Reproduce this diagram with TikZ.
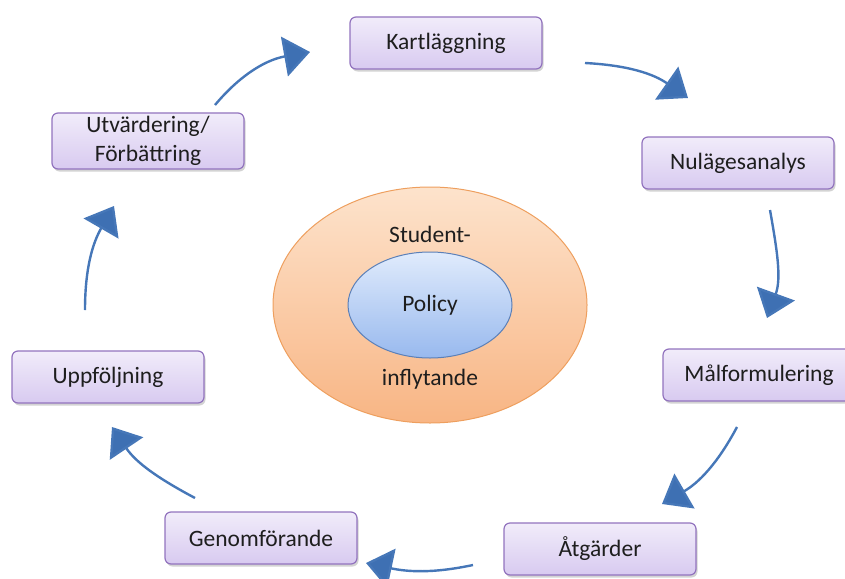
\documentclass[tikz,border=0pt]{standalone}
\usepackage{fontspec}
\setmainfont{Carlito}
\usetikzlibrary{arrows.meta,shadows,shapes.geometric}
\definecolor{boxtop}{HTML}{F1ECFA}
\definecolor{boxbot}{HTML}{D8CAF0}
\definecolor{boxline}{HTML}{9273BE}
\definecolor{arrowc}{HTML}{4677B8}
\definecolor{tipc}{HTML}{3E70B3}
\definecolor{orgtop}{HTML}{FDE3CC}
\definecolor{orgbot}{HTML}{F8B584}
\definecolor{orgline}{HTML}{EE9F5E}
\definecolor{bltop}{HTML}{E0EBFC}
\definecolor{blbot}{HTML}{98B9EE}
\definecolor{blline}{HTML}{5B80B8}
\definecolor{txt}{HTML}{1E1E1E}
\tikzset{
  stepbox/.style={rectangle, rounded corners=6pt, draw=boxline, line width=1.2pt,
    top color=boxtop, bottom color=boxbot, minimum width=192pt, minimum height=52pt,
    font=\fontsize{23.5}{29}\selectfont, text=txt, align=center,
    drop shadow={opacity=0.35, shadow xshift=1.5pt, shadow yshift=-2.5pt}},
  cyc/.style={draw=arrowc, line width=2.4pt,
    -{Triangle[length=26pt,width=40pt,fill=tipc]}},
  lbl/.style={font=\fontsize{23.5}{29}\selectfont, text=txt}
}
\begin{document}
\begin{tikzpicture}[x=1pt,y=-1pt]
\useasboundingbox (0,0) rectangle (845,578);
\clip (0,0) rectangle (845,578);
% central ellipses
\node[ellipse, draw=orgline, line width=1pt, top color=orgtop, bottom color=orgbot,
  minimum width=314pt, minimum height=236pt] (outer) at (430,305) {};
\node[ellipse, draw=blline, line width=1pt, top color=bltop, bottom color=blbot,
  minimum width=164pt, minimum height=106pt] (inner) at (430,305) {};
\node[lbl] (policy) at (inner.center) {Policy};
\node[lbl] (student) at (430,234) {Student-};
\node[lbl] (infly) at (430,379) {inflytande};
% boxes
\node[stepbox] (kart) at (446,43) {Kartläggning};
\node[stepbox] (nul) at (738,163) {Nulägesanalys};
\node[stepbox] (mal) at (759,375) {Målformulering};
\node[stepbox] (atg) at (600,549) {Åtgärder};
\node[stepbox] (gen) at (261,538) {Genomförande};
\node[stepbox] (upp) at (108,377) {Uppföljning};
\node[stepbox] (utv) at (148,141) {Utvärdering/\\Förbättring};
% arrow ends
\coordinate (a1s) at (215,105); \coordinate (a1e) at (310,52);
\coordinate (a2s) at (585,63);  \coordinate (a2e) at (688,98);
\coordinate (a3s) at (770,210); \coordinate (a3e) at (767,318);
\coordinate (a4s) at (737,427); \coordinate (a4e) at (662,504);
\coordinate (a5s) at (473,565); \coordinate (a5e) at (366,563);
\coordinate (a6s) at (195,498); \coordinate (a6e) at (112,427);
\coordinate (a7s) at (85,310);  \coordinate (a7e) at (114,206);
\draw[cyc] (a1s) to[out=50,in=190] (a1e);
\draw[cyc] (a2s) to[out=-3,in=145] (a2e);
\draw[cyc] (a3s) to[out=-80,in=70] (a3e);
\draw[cyc] (a4s) to[out=-118,in=30] (a4e);
\draw[cyc] (a5s) to[out=192,in=-12] (a5e);
\draw[cyc] (a6s) to[out=152,in=-56] (a6e);
\draw[cyc] (a7s) to[out=90,in=240] (a7e);
\end{tikzpicture}
\end{document}
